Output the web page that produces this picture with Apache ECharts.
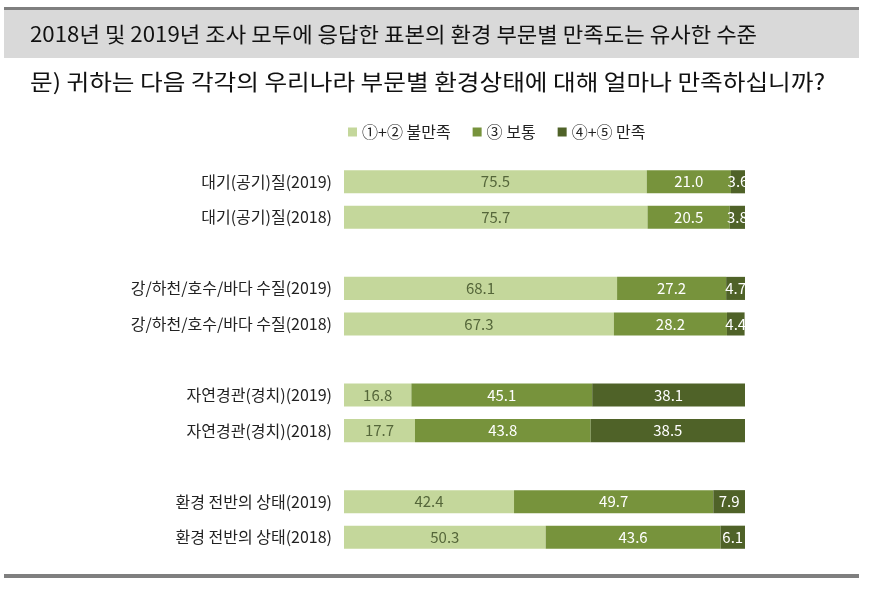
<!DOCTYPE html>
<html><head><meta charset="utf-8">
<script src="https://cdn.jsdelivr.net/npm/echarts@6/dist/echarts.min.js"></script>
<style>html,body{margin:0;padding:0;background:#fff}#c{width:871px;height:589px}</style>
</head><body><div id="c"></div>
<script>
const categories = ['대기(공기)질(2019)','대기(공기)질(2018)','','강/하천/호수/바다 수질(2019)','강/하천/호수/바다 수질(2018)','','자연경관(경치)(2019)','자연경관(경치)(2018)','','환경 전반의 상태(2019)','환경 전반의 상태(2018)'];
const seriesNames = ['①+② 불만족','③ 보통','④+⑤ 만족'];
const dissatisfied = [75.5,75.7,'-',68.1,67.3,'-',16.8,17.7,'-',42.4,50.3];
const neutral      = [21.0,20.5,'-',27.2,28.2,'-',45.1,43.8,'-',49.7,43.6];
const satisfied    = [3.6,3.8,'-',4.7,4.4,'-',38.1,38.5,'-',7.9,6.1];
const titleText = '2018년 및 2019년 조사 모두에 응답한 표본의 환경 부문별 만족도는 유사한 수준';
const questionText = '문) 귀하는 다음 각각의 우리나라 부문별 환경상태에 대해 얼마나 만족하십니까?';

const colors = ['#c4d79b','#77933c','#4f6228'];
const labelColors = ['#55663a','#ffffff','#ffffff'];
const FONT = '"Noto Sans CJK KR", "Noto Sans", sans-serif';
const values = [dissatisfied, neutral, satisfied];

const chart = echarts.init(document.getElementById('c'));
chart.setOption({
  animation:false,
  textStyle:{fontFamily:FONT},
  graphic:[
    {type:'rect',shape:{x:4,y:7,width:855,height:3},style:{fill:'#7f7f7f'}},
    {type:'rect',shape:{x:4,y:10,width:855,height:48},style:{fill:'#d9d9d9'}},
    {type:'text',x:30,y:34,scaleX:1.06,style:{text:titleText,fill:'#111',font:'21px '+FONT,verticalAlign:'middle'}},
    {type:'text',x:30,y:82,scaleX:1.12,style:{text:questionText,fill:'#111',font:'22px '+FONT,verticalAlign:'middle'}},
    {type:'rect',shape:{x:4,y:574,width:855,height:4},style:{fill:'#7f7f7f'}}
  ],
  legend:{
    top:119,left:343,itemWidth:9,itemHeight:9,itemGap:22,
    textStyle:{fontSize:16,color:'#222',fontFamily:FONT},
    data:seriesNames.map((n,i)=>({name:n,icon:'rect'}))
  },
  grid:{left:344,right:126,top:164,bottom:34,containLabel:false},
  xAxis:{type:'value',min:0,max:100,show:false},
  yAxis:{type:'category',inverse:true,data:categories,
    axisLine:{show:false},axisTick:{show:false},
    axisLabel:{fontSize:16,color:'#222',margin:12,fontFamily:FONT}},
  series:seriesNames.map((n,i)=>({
    name:n,type:'bar',stack:'t',barWidth:'65%',
    itemStyle:{color:colors[i]},
    label:{show:true,position:'inside',color:labelColors[i],fontSize:15,
      fontFamily:FONT,formatter:p=>Number(p.value).toFixed(1)},
    data:values[i]
  }))
});
</script></body></html>
